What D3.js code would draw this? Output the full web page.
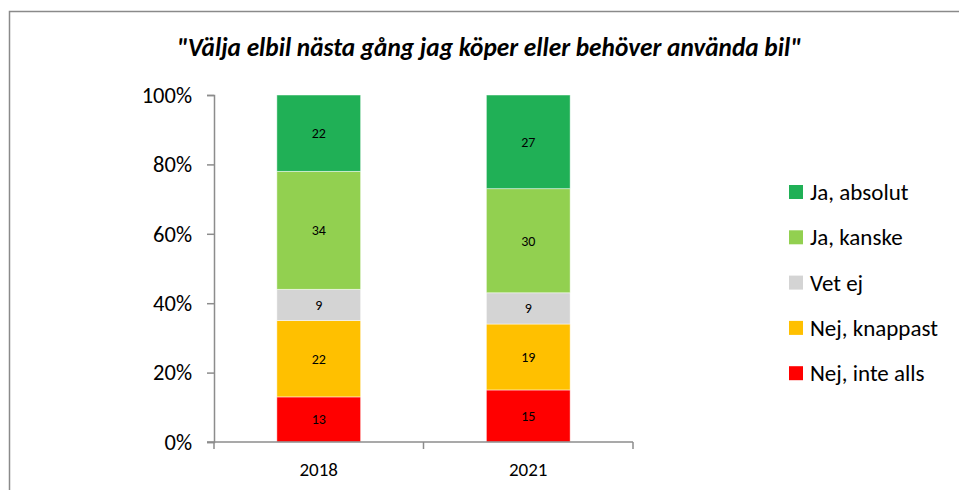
<!DOCTYPE html>
<html>
<head>
<meta charset="utf-8">
<script src="https://cdn.jsdelivr.net/npm/d3@7"></script>
<style>
  body { margin: 0; background: #fff; }
  svg { display: block; font-family: Carlito, Lato, "Open Sans", sans-serif; }
</style>
</head>
<body>
<svg id="chart"></svg>
<script>
// chart data
const years = ["2018", "2021"];
const answers = ["Nej, inte alls", "Nej, knappast", "Vet ej", "Ja, kanske", "Ja, absolut"];
const colors = ["#ff0000", "#ffc000", "#d4d4d4", "#92d050", "#20b056"];
const values2018 = [13, 22, 9, 34, 22];
const values2021 = [15, 19, 9, 30, 27];
const yTicks = [0, 20, 40, 60, 80, 100];
const title = "\"Välja elbil nästa gång jag köper eller behöver använda bil\"";

const dimen = { width: 959, height: 490 };
const plot = { left: 214, right: 633, top: 95, bottom: 442 };

const svg = d3.select("#chart")
  .attr("width", dimen.width)
  .attr("height", dimen.height);

// outer frame
svg.append("path")
  .attr("d", `M9.5,${dimen.height} V11.5 H${dimen.width}`)
  .attr("fill", "none")
  .attr("stroke", "#8a8a8a")
  .attr("stroke-width", 1.5);

svg.append("text")
  .attr("x", 489)
  .attr("y", 56)
  .attr("text-anchor", "middle")
  .attr("font-size", 25.3)
  .attr("font-weight", "bold")
  .attr("font-style", "italic")
  .text(title);

const x = d3.scaleBand()
  .domain(years)
  .range([plot.left, plot.right])
  .paddingInner(0.6)
  .paddingOuter(0.3);

const y = d3.scaleLinear()
  .domain([0, 100])
  .range([plot.bottom, plot.top]);

// stack the rows
const rows = years.map((yr, i) => {
  const vals = i === 0 ? values2018 : values2021;
  const row = { year: yr };
  answers.forEach((a, j) => row[a] = vals[j]);
  return row;
});
const series = d3.stack().keys(answers)(rows);

const layer = svg.append("g")
  .selectAll("g")
  .data(series)
  .enter().append("g")
    .attr("fill", (d, i) => colors[i]);

layer.selectAll("rect")
  .data(d => d)
  .enter().append("rect")
    .attr("x", d => x(d.data.year))
    .attr("width", x.bandwidth())
    .attr("y", d => y(d[1]))
    .attr("height", d => y(d[0]) - y(d[1]))
    .attr("stroke", "rgba(255,255,255,0.6)")
    .attr("stroke-width", 0.8);

layer.selectAll("text")
  .data(d => d.map(p => ({ p, key: d.key })))
  .enter().append("text")
    .attr("x", d => x(d.p.data.year) + x.bandwidth() / 2)
    .attr("y", d => y((d.p[0] + d.p[1]) / 2))
    .attr("dy", "0.35em")
    .attr("text-anchor", "middle")
    .attr("font-size", 14)
    .attr("fill", "#000")
    .text(d => d.p.data[d.key]);

// y axis
const yAxis = svg.append("g")
  .attr("transform", `translate(${plot.left},0)`)
  .call(d3.axisLeft(y).tickValues(yTicks).tickFormat(d => d + "%").tickSize(7).tickPadding(15));
yAxis.attr("font-family", null);
yAxis.selectAll("path, line").attr("stroke", "#8c8c8c").attr("stroke-width", 1.5);
yAxis.selectAll("text").attr("font-size", 22.5).attr("fill", "#000");

// x axis
const xAxis = svg.append("g")
  .attr("transform", `translate(0,${plot.bottom})`);
xAxis.append("line")
  .attr("x1", plot.left - 7).attr("x2", plot.right)
  .attr("stroke", "#8c8c8c").attr("stroke-width", 1.5);
const xBounds = [plot.left, (x("2018") + x.bandwidth() + x("2021")) / 2, plot.right];
xAxis.selectAll("line.tick")
  .data(xBounds)
  .enter().append("line")
    .attr("class", "tick")
    .attr("x1", d => d).attr("x2", d => d)
    .attr("y1", 0).attr("y2", 7)
    .attr("stroke", "#8c8c8c").attr("stroke-width", 1.5);
xAxis.selectAll("text")
  .data(years)
  .enter().append("text")
    .attr("x", d => x(d) + x.bandwidth() / 2)
    .attr("y", 34)
    .attr("text-anchor", "middle")
    .attr("font-size", 19)
    .text(d => d);

// legend, top item is the last series
const legend = svg.append("g")
  .selectAll("g")
  .data(answers.slice().reverse())
  .enter().append("g")
    .attr("transform", (d, i) => `translate(789,${192 + i * 45.3})`);
legend.append("rect")
  .attr("y", -7).attr("width", 14).attr("height", 14)
  .attr("fill", d => colors[answers.indexOf(d)]);
legend.append("text")
  .attr("x", 21)
  .attr("dy", "0.35em")
  .attr("font-size", 23)
  .text(d => d);
</script>
</body>
</html>
